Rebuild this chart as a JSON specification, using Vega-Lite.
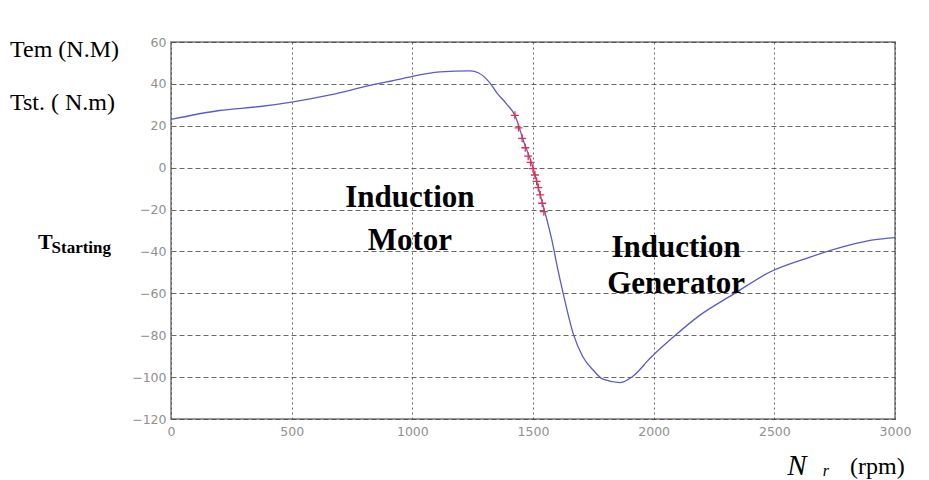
{
  "$schema": "https://vega.github.io/schema/vega-lite/v6.json",
  "width": 724,
  "height": 377,
  "autosize": "none",
  "padding": {"left": 171, "top": 42, "right": 34, "bottom": 61},
  "background": "white",
  "config": {
    "view": {"stroke": "#777777", "strokeWidth": 1.5},
    "axis": {
      "labelFont": "DejaVu Sans",
      "labelFontSize": 12.5,
      "labelColor": "#909090",
      "ticks": false,
      "domain": false,
      "grid": true,
      "gridColor": "#444444",
      "gridOpacity": 0.8,
      "gridWidth": 1,
      "title": null,
      "format": "d"
    }
  },
  "datasets": {
    "curve": [
      {"n": 0, "t": 23}, {"n": 200, "t": 27.3}, {"n": 370, "t": 29.2}, {"n": 500, "t": 31.3},
      {"n": 660, "t": 34.7}, {"n": 825, "t": 39.3}, {"n": 950, "t": 42.3}, {"n": 1000, "t": 43.6},
      {"n": 1115, "t": 45.7}, {"n": 1240, "t": 46.2}, {"n": 1275, "t": 45.2}, {"n": 1322, "t": 40.4},
      {"n": 1351, "t": 35.6}, {"n": 1390, "t": 30.5}, {"n": 1425, "t": 25}, {"n": 1460, "t": 13},
      {"n": 1500, "t": 0}, {"n": 1530, "t": -13}, {"n": 1558, "t": -25}, {"n": 1579, "t": -35},
      {"n": 1600, "t": -47}, {"n": 1625, "t": -60}, {"n": 1666, "t": -79}, {"n": 1707, "t": -90.4},
      {"n": 1749, "t": -96.6}, {"n": 1790, "t": -101}, {"n": 1861, "t": -102.6}, {"n": 1915, "t": -99.5},
      {"n": 1985, "t": -91}, {"n": 2080, "t": -81}, {"n": 2192, "t": -70.4}, {"n": 2329, "t": -60.5},
      {"n": 2482, "t": -49.8}, {"n": 2648, "t": -42.7}, {"n": 2814, "t": -36.9}, {"n": 2910, "t": -34.5},
      {"n": 3000, "t": -33.4}
    ],
    "marks": [
      {"n": 1425, "t": 25}, {"n": 1440, "t": 19}, {"n": 1455, "t": 14}, {"n": 1468, "t": 9.5},
      {"n": 1480, "t": 5.5}, {"n": 1490, "t": 2.5}, {"n": 1500, "t": -0.5}, {"n": 1508, "t": -3.5},
      {"n": 1515, "t": -6.5}, {"n": 1522, "t": -9.5}, {"n": 1530, "t": -13}, {"n": 1538, "t": -17},
      {"n": 1545, "t": -21}
    ],
    "labels": [
      {"g": "side", "label": "Tem (N.M)", "n": -667, "t": 56.2},
      {"g": "side", "label": "Tst. ( N.m)", "n": -667, "t": 30.9},
      {"g": "side", "label": "(rpm)", "n": 2814, "t": -143},
      {"g": "big", "label": "Induction", "n": 990, "t": -14.5},
      {"g": "big", "label": "Motor", "n": 990, "t": -35},
      {"g": "big", "label": "Induction", "n": 2093, "t": -38.4},
      {"g": "big", "label": "Generator", "n": 2093, "t": -55.6},
      {"g": "T", "label": "T", "n": -551, "t": -35.5},
      {"g": "sub", "label": "Starting", "n": -495, "t": -38.2},
      {"g": "N", "label": "N", "n": 2594, "t": -142.5},
      {"g": "r", "label": "r", "n": 2714, "t": -145}
    ]
  },
  "encoding": {
    "x": {
      "field": "n", "type": "quantitative",
      "scale": {"domain": [0, 3000], "nice": false, "zero": false},
      "axis": {"values": [0, 500, 1000, 1500, 2000, 2500, 3000], "gridDash": [2, 3], "labelPadding": 6, "labelFlush": false}
    },
    "y": {
      "field": "t", "type": "quantitative",
      "scale": {"domain": [-120, 60], "nice": false, "zero": false},
      "axis": {"values": [-120, -100, -80, -60, -40, -20, 0, 20, 40, 60], "gridDash": [5, 3], "labelPadding": 5}
    }
  },
  "layer": [
    {
      "data": {"name": "curve"},
      "mark": {"type": "line", "color": "#5b5bc8", "strokeWidth": 1.3, "clip": true, "interpolate": "monotone"}
    },
    {
      "data": {"name": "marks"},
      "mark": {"type": "point", "shape": "M-1,0L1,0M0,-1L0,1", "color": "#e0304a", "size": 64, "strokeWidth": 1.3, "filled": false, "opacity": 1}
    },
    {
      "data": {"name": "labels"},
      "transform": [{"filter": "datum.g === 'side'"}],
      "mark": {"type": "text", "font": "Liberation Serif", "fontSize": 24, "align": "left", "baseline": "middle", "color": "black"},
      "encoding": {"text": {"field": "label"}}
    },
    {
      "data": {"name": "labels"},
      "transform": [{"filter": "datum.g === 'big'"}],
      "mark": {"type": "text", "font": "Liberation Serif", "fontSize": 31, "fontWeight": "bold", "align": "center", "baseline": "middle", "color": "black"},
      "encoding": {"text": {"field": "label"}}
    },
    {
      "data": {"name": "labels"},
      "transform": [{"filter": "datum.g === 'T'"}],
      "mark": {"type": "text", "font": "Liberation Serif", "fontSize": 22, "fontWeight": "bold", "align": "left", "baseline": "middle", "color": "black"},
      "encoding": {"text": {"field": "label"}}
    },
    {
      "data": {"name": "labels"},
      "transform": [{"filter": "datum.g === 'sub'"}],
      "mark": {"type": "text", "font": "Liberation Serif", "fontSize": 17, "fontWeight": "bold", "align": "left", "baseline": "middle", "color": "black"},
      "encoding": {"text": {"field": "label"}}
    },
    {
      "data": {"name": "labels"},
      "transform": [{"filter": "datum.g === 'N'"}],
      "mark": {"type": "text", "font": "Liberation Serif", "fontSize": 29, "fontStyle": "italic", "align": "center", "baseline": "middle", "color": "black"},
      "encoding": {"text": {"field": "label"}}
    },
    {
      "data": {"name": "labels"},
      "transform": [{"filter": "datum.g === 'r'"}],
      "mark": {"type": "text", "font": "Liberation Serif", "fontSize": 16, "fontStyle": "italic", "align": "center", "baseline": "middle", "color": "black"},
      "encoding": {"text": {"field": "label"}}
    }
  ]
}
